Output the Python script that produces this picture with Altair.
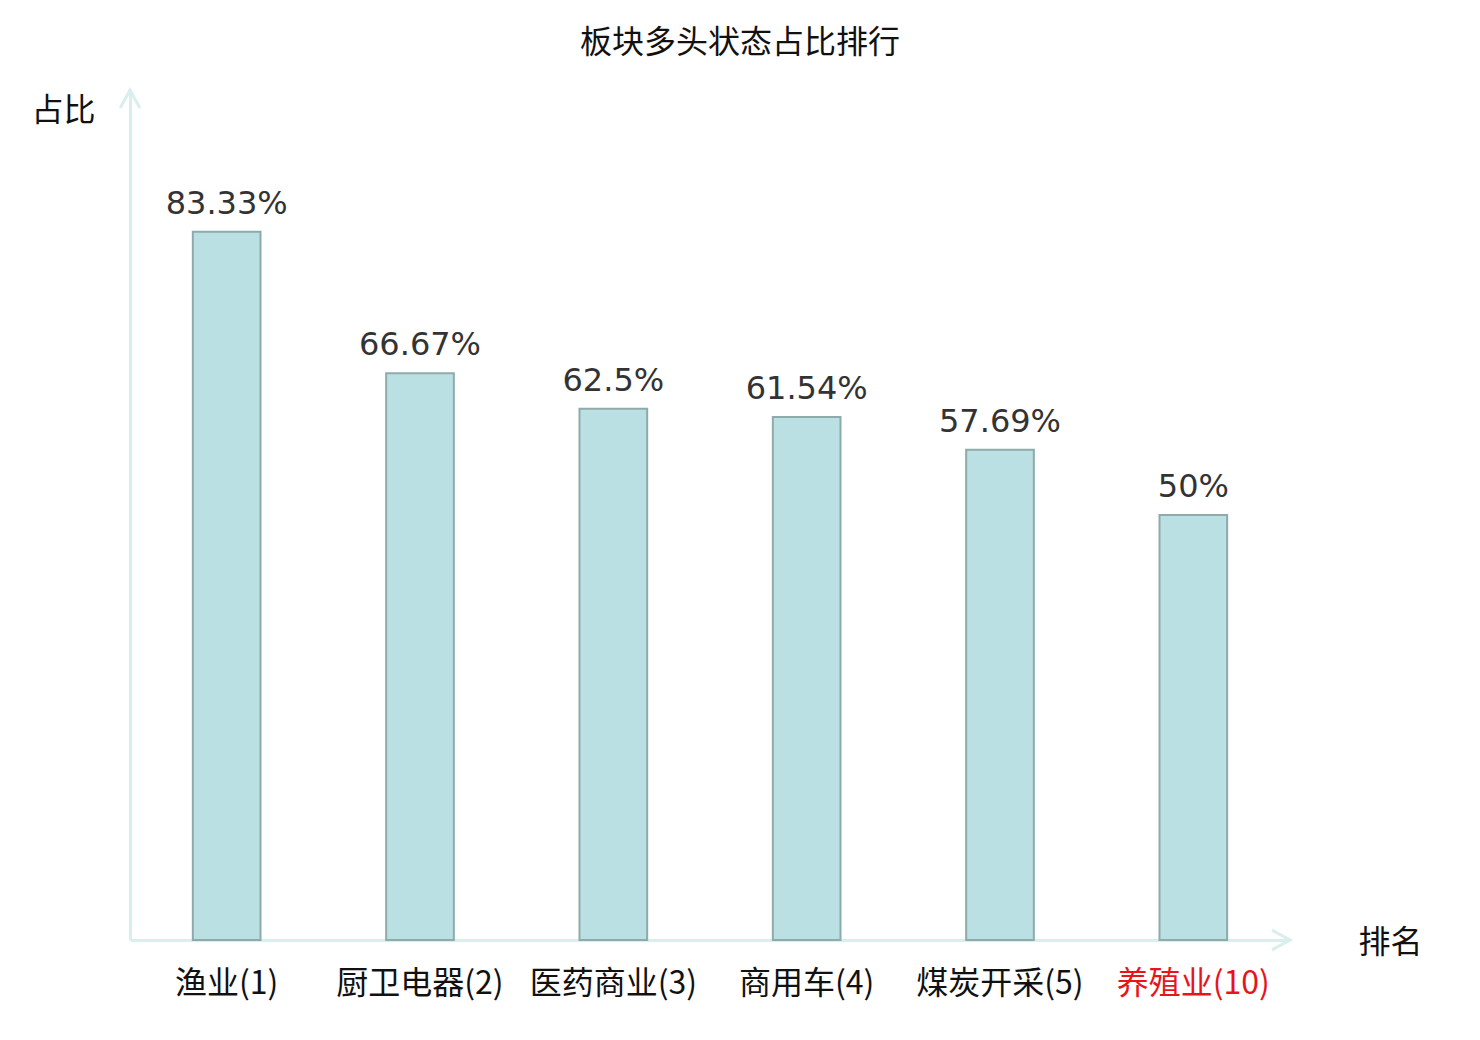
import altair as alt
import pandas as pd

categories = ["渔业(1)", "厨卫电器(2)", "医药商业(3)", "商用车(4)", "煤炭开采(5)", "养殖业(10)"]
values = [83.33, 66.67, 62.5, 61.54, 57.69, 50]
value_labels = ["83.33%", "66.67%", "62.5%", "61.54%", "57.69%", "50%"]
highlight = "养殖业(10)"

CJK = "Noto Sans CJK SC"
AXIS_COLOR = "#d8efed"

df = pd.DataFrame({"cat": categories, "val": values, "lab": value_labels})

x_enc = alt.X(
    "cat:N",
    sort=categories,
    scale=alt.Scale(paddingInner=0.65, paddingOuter=0.325),
    axis=alt.Axis(
        title="排名", titleAngle=0, titleX=1260, titleY=2,
        titleAlign="center", titleBaseline="middle",
        titleFont=CJK, titleFontSize=32, titleFontWeight="normal", titleColor="#111",
        labelAngle=0, labelFont=CJK, labelFontSize=32,
        labelColor=alt.expr(f"datum.value == '{highlight}' ? '#e8141b' : '#111'"),
        labelPadding=28, ticks=False, grid=False,
        domainColor=AXIS_COLOR, domainWidth=3,
    ),
)
y_enc = alt.Y(
    "val:Q",
    scale=alt.Scale(domain=[0, 100], nice=False, zero=True),
    axis=alt.Axis(
        title="占比", titleAngle=0, titleX=-67, titleY=20,
        titleAlign="center", titleBaseline="middle",
        titleFont=CJK, titleFontSize=32, titleFontWeight="normal", titleColor="#111",
        labels=False, ticks=False, grid=False,
        domainColor=AXIS_COLOR, domainWidth=3,
    ),
)

base = alt.Chart(df)
bars = base.mark_bar(fill="#bbe0e3", stroke="#8eaaaa", strokeWidth=2).encode(x=x_enc, y=y_enc)
texts = base.mark_text(
    baseline="bottom", dy=-11, font="DejaVu Sans", fontSize=32, color="#333"
).encode(x=alt.X("cat:N", sort=categories), y="val:Q", text="lab:N")

arrow_df = pd.DataFrame({"v": [0]})
up_arrow = alt.Chart(arrow_df).mark_point(
    shape="M -0.55 1 L 0 0 L 0.55 1", filled=False, stroke=AXIS_COLOR,
    strokeWidth=3, size=1296, opacity=1,
).encode(x=alt.value(0), y=alt.datum(100))
right_arrow = alt.Chart(arrow_df).mark_point(
    shape="M -1 -0.55 L 0 0 L -1 0.55", filled=False, stroke=AXIS_COLOR,
    strokeWidth=3, size=1296, opacity=1,
).encode(x=alt.value({"expr": "width"}), y=alt.datum(0))

chart = alt.layer(bars, texts, up_arrow, right_arrow).properties(
    width=1160,
    height=850,
    autosize=alt.AutoSizeParams(type="none"),
    padding={"left": 122, "top": 82, "right": 170, "bottom": 90},
    title=alt.TitleParams(
        "板块多头状态占比排行", font=CJK, fontSize=32, fontWeight="normal",
        color="#111", offset=24, dx=30, anchor="middle",
    ),
).configure_view(stroke=None)

chart.save("out.html", embed_options={"renderer": "svg", "actions": False})
